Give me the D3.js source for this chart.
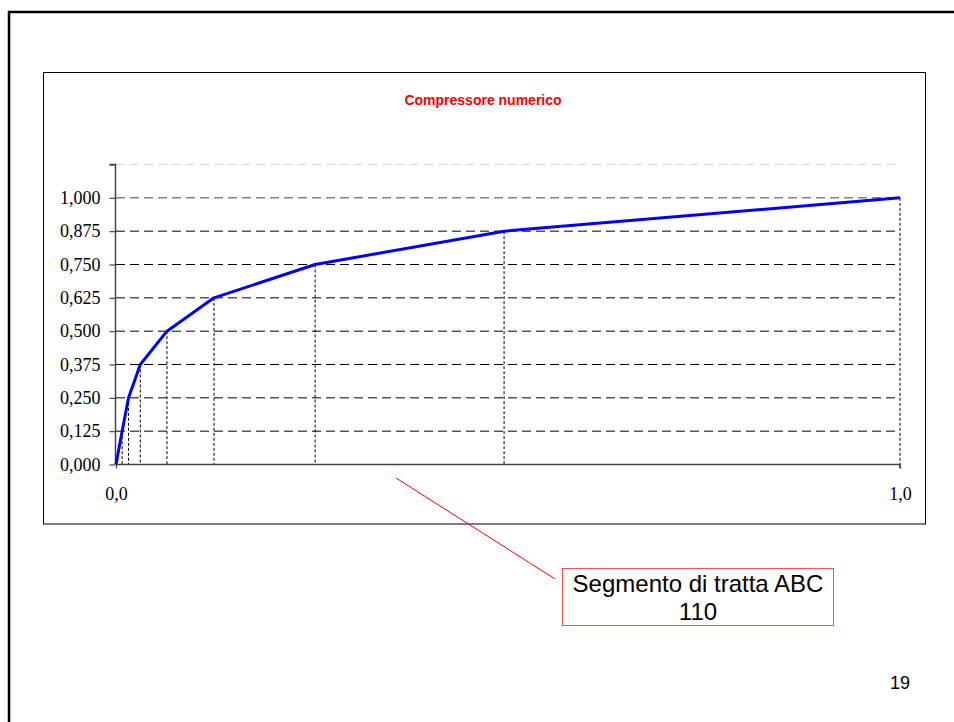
<!DOCTYPE html>
<html>
<head>
<meta charset="utf-8">
<script src="https://cdn.jsdelivr.net/npm/d3@7"></script>
<style>
  html, body { margin: 0; padding: 0; background: #fff; }
  svg { display: block; }
</style>
</head>
<body>
<svg id="chart" width="954" height="722"></svg>
<script>
// ---- data ----
const xValues = [0, 0.0078, 0.016, 0.031, 0.065, 0.125, 0.254, 0.495, 1];
const yValues = [0, 0.125, 0.25, 0.375, 0.5, 0.625, 0.75, 0.875, 1];
const yTicks = [0, 0.125, 0.25, 0.375, 0.5, 0.625, 0.75, 0.875, 1, 1.125];
const xTicks = [0, 1];
const title = "Compressore numerico";
const calloutLines = ["Segmento di tratta ABC", "110"];
const pageNumber = "19";

const svg = d3.select("#chart");

// outer slide frame
svg.append("path")
  .attr("d", "M9,730 L9,12 L960,12")
  .attr("fill", "none").attr("stroke", "#000").attr("stroke-width", 2.5);

// chart box
svg.append("rect")
  .attr("x", 43.5).attr("y", 72.5).attr("width", 882).attr("height", 451.5)
  .attr("fill", "#fff").attr("stroke", "#000").attr("stroke-width", 1);

const x = d3.scaleLinear().domain([0, 1]).range([116, 900]);
const y = d3.scaleLinear().domain([0, 1.125]).range([464.5, 164.5]);

const fmt = v => v.toFixed(3).replace(".", ",");
const serif = "'Liberation Serif', 'Times New Roman', serif";
const sans = "'Liberation Sans', Arial, sans-serif";

// horizontal gridlines
svg.append("g").selectAll("line").data(yTicks.filter(d => d > 0)).join("line")
  .attr("x1", x(0)).attr("x2", x(1))
  .attr("y1", d => y(d)).attr("y2", d => y(d))
  .attr("stroke", d => d > 1.01 ? "#d8d8d8" : (d === 1 ? "#444" : "#000"))
  .attr("stroke-width", 1)
  .attr("stroke-dasharray", "9,5");

// vertical dotted drop lines
const pts = xValues.map((v, i) => [v, yValues[i]]);
svg.append("g").selectAll("line").data(pts.slice(1)).join("line")
  .attr("x1", d => x(d[0])).attr("x2", d => x(d[0]))
  .attr("y1", d => y(d[1])).attr("y2", y(0))
  .attr("stroke", "#000").attr("stroke-width", 1)
  .attr("stroke-dasharray", "3,2");

// y axis
const yAxis = d3.axisLeft(y).tickValues(yTicks)
  .tickFormat(d => d > 1.01 ? "" : fmt(d)).tickSize(6).tickPadding(9);
const gy = svg.append("g").attr("transform", `translate(${x(0) - 0.5},0)`).call(yAxis);
gy.attr("font-family", serif).attr("font-size", 18);
gy.select(".domain").attr("stroke", "#444").attr("stroke-width", 1.5).attr("d", `M-6,${y(1.125)}H0V${y(0)}`);
gy.selectAll(".tick line").attr("stroke", "#444").attr("stroke-width", 1.2);
gy.selectAll("text").attr("fill", "#000");

// x axis
const xAxis = d3.axisBottom(x).tickValues(xTicks)
  .tickFormat(d => d.toFixed(1).replace(".", ",")).tickSize(4).tickPadding(19);
const gx = svg.append("g").attr("transform", `translate(0,${y(0)})`).call(xAxis);
gx.attr("font-family", serif).attr("font-size", 18);
gx.select(".domain").attr("stroke", "#444").attr("stroke-width", 1.5).attr("d", `M${x(0)},0H${x(1)}V4`);
gx.selectAll(".tick line").attr("stroke", "#444").attr("stroke-width", 1.2);
gx.selectAll("text").attr("fill", "#000");

// curve
svg.append("path").datum(pts)
  .attr("d", d3.line().x(d => x(d[0])).y(d => y(d[1])))
  .attr("fill", "none").attr("stroke", "#0000ff").attr("stroke-width", 3)
  .attr("stroke-linejoin", "round");

// title
svg.append("text").attr("x", 483).attr("y", 105).attr("text-anchor", "middle")
  .attr("font-family", sans).attr("font-weight", "bold")
  .attr("font-size", 14).attr("fill", "#ff0000").text(title);

// callout
svg.append("line").attr("x1", 396).attr("y1", 478).attr("x2", 555).attr("y2", 579)
  .attr("stroke", "#ff0000").attr("stroke-width", 1);
svg.append("rect").attr("x", 562.5).attr("y", 568.5).attr("width", 271).attr("height", 57)
  .attr("fill", "#fff").attr("stroke", "#ff5050").attr("stroke-width", 1);
svg.append("g").selectAll("text").data(calloutLines).join("text")
  .attr("x", 698).attr("y", (d, i) => 592 + i * 28).attr("text-anchor", "middle")
  .attr("font-family", sans).attr("font-size", 24)
  .attr("fill", "#000").text(d => d);

// page number
svg.append("text").attr("x", 900).attr("y", 689).attr("text-anchor", "middle")
  .attr("font-family", sans).attr("font-size", 18)
  .attr("fill", "#000").text(pageNumber);
</script>
</body>
</html>
